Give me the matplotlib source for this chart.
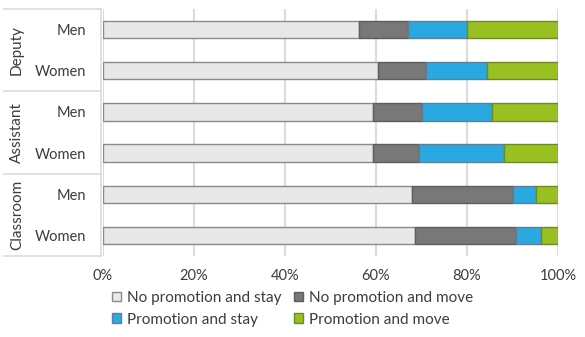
import matplotlib
matplotlib.use("Agg")
import matplotlib.pyplot as plt
import matplotlib.transforms as mtransforms
from matplotlib.patches import Patch
import numpy as np

plt.rcParams["font.family"] = ["Lato", "DejaVu Sans"]

groups = ["Deputy", "Assistant", "Classroom"]
genders = ["Men", "Women"]
series = ["No promotion and stay", "No promotion and move",
          "Promotion and stay", "Promotion and move"]

# shares (%) per row: Deputy Men, Deputy Women, Assistant Men, Assistant Women,
# Classroom Men, Classroom Women
no_promo_stay = [56.3, 60.5, 59.4, 59.4, 68.0, 68.6]
no_promo_move = [10.7, 10.4, 10.6, 10.1, 22.0, 22.1]
promo_stay = [12.9, 13.4, 15.6, 18.7, 5.2, 5.5]
promo_move = [20.1, 15.7, 14.4, 11.8, 4.8, 3.8]

colors = ["#e8e8e8", "#787878", "#2aa9e0", "#98c021"]
edges = ["#8a8a8a", "#5e5e5e", "#5e7f99", "#6f8a22"]
text_color = "#3c3c3c"
line_color = "#dcdcdc"

W, H = 585, 337
fig = plt.figure(figsize=(W / 100, H / 100), dpi=100)
left, right, top, bottom = 103, 558, 9, 256
ax = fig.add_axes([left / W, 1 - bottom / H, (right - left) / W, (bottom - top) / H])

values = [no_promo_stay, no_promo_move, promo_stay, promo_move]
n_rows = len(no_promo_stay)
y = np.arange(n_rows)
base = np.zeros(n_rows)
for vals, c, e, name in zip(values, colors, edges, series):
    ax.barh(y, vals, left=base, height=0.42, color=c, edgecolor=e,
            linewidth=1.0, label=name, zorder=3)
    base = base + np.array(vals)

ax.set_xlim(0, 100)
ax.set_ylim(n_rows - 0.5, -0.5)
ax.set_xticks(np.arange(0, 101, 20))
ax.set_xticklabels([f"{t}%" for t in range(0, 101, 20)])
ax.xaxis.grid(True, color=line_color, linewidth=1.5, zorder=0)
ax.set_axisbelow(True)
for s in ax.spines.values():
    s.set_visible(False)
ax.tick_params(axis="x", length=0, pad=9, labelsize=10.5, labelcolor=text_color)
ax.set_yticks(y)
ax.set_yticklabels(genders * len(groups))
ax.tick_params(axis="y", length=0, pad=12, labelsize=10.5, labelcolor=text_color)

# group column: separators, frame line and rotated group names
trans = mtransforms.blended_transform_factory(ax.transAxes, ax.transData)
x0 = (4 - left) / (right - left)
xv = (101 - left) / (right - left)
for b in [-0.5, 1.5, 3.5, 5.5]:
    ax.plot([x0, xv], [b, b], transform=trans, color=line_color,
            linewidth=1.2, clip_on=False, zorder=1)
ax.plot([xv, xv], [-0.5, n_rows - 0.5], transform=trans, color=line_color,
        linewidth=1.2, clip_on=False, zorder=1)
xg = (17 - left) / (right - left)
for i, g in enumerate(groups):
    ax.text(xg, 2 * i + 0.5, g, transform=trans, rotation=90, ha="center",
            va="center", fontsize=11, color=text_color)

# legend laid out row-wise: matplotlib fills columns first
handles = [Patch(facecolor=c, edgecolor=e, linewidth=1.0) for c, e in zip(colors, edges)]
order = [0, 2, 1, 3]
fig.legend([handles[i] for i in order], [series[i] for i in order], ncol=2,
           loc="upper left", bbox_to_anchor=(112 / W, 1 - 291 / H), frameon=False,
           handlelength=0.6, handleheight=0.6, handletextpad=0.4,
           columnspacing=0.8, labelspacing=0.5, fontsize=11,
           labelcolor=text_color, borderaxespad=0, borderpad=0)

fig.savefig("out.png", dpi=100, facecolor="white")
